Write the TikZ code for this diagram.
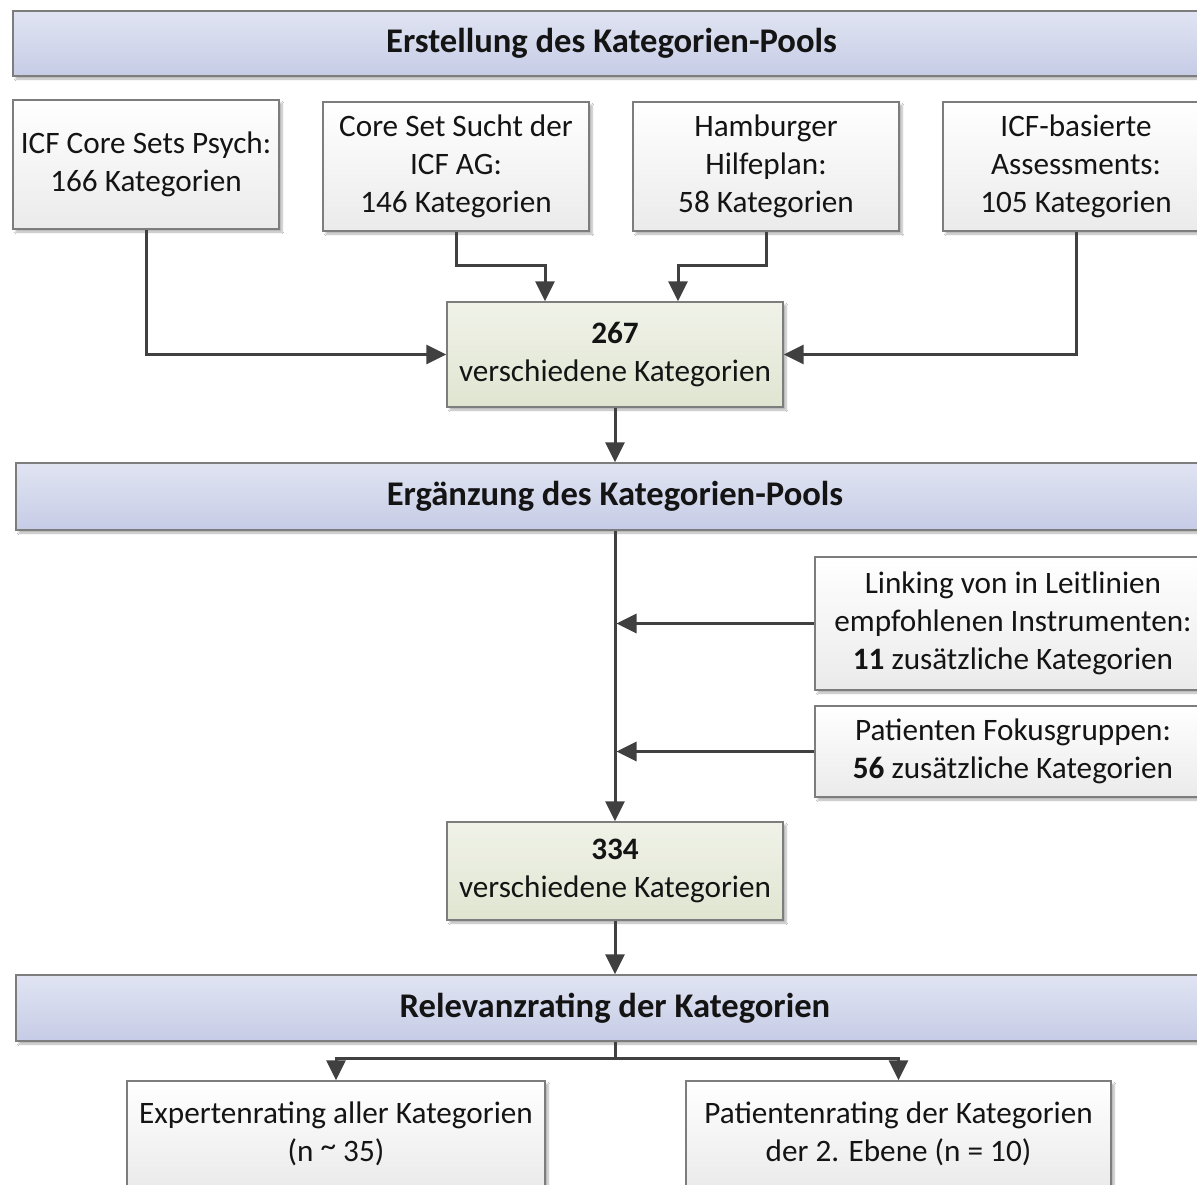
\documentclass[tikz,border=0pt]{standalone}
\usepackage{fontspec}
\setmainfont{Carlito}
\usetikzlibrary{arrows.meta,shadows.blur,calc}

\definecolor{hdtop}{RGB}{224,228,242}
\definecolor{hdbot}{RGB}{198,204,230}
\definecolor{grtop}{RGB}{240,242,232}
\definecolor{grbot}{RGB}{224,229,209}
\definecolor{boxline}{RGB}{125,125,125}
\definecolor{conncol}{RGB}{64,64,64}

\tikzset{
  base/.style={draw=boxline, line width=1.3pt, align=center, inner sep=0pt,
    text=black!92, font=\fontsize{31.2}{38}\selectfont,
    blur shadow={shadow xshift=3pt, shadow yshift=-3pt, shadow opacity=30, shadow blur steps=6}},
  header/.style={base, top color=hdtop, bottom color=hdbot,
    font=\fontsize{34.6}{40}\selectfont\bfseries},
  srcbox/.style={base, top color=white, bottom color=black!8},
  sumbox/.style={base, top color=grtop, bottom color=grbot},
  conn/.style={draw=conncol, line width=3pt},
  arr/.style={conn, -{Triangle[length=20pt,width=19pt]}},
}

\begin{document}
\begin{tikzpicture}[x=1pt,y=-1pt]
  \clip (0,0) rectangle (1197,1184);
  \fill[white] (0,0) rectangle (1197,1184);

  % section headers
  \node[header, minimum width=1197pt, minimum height=65pt] (h1) at (611.5,43.5) {Erstellung des Kategorien-Pools};
  \node[header, minimum width=1198pt, minimum height=67pt] (h2) at (615,496.5) {Ergänzung des Kategorien-Pools};
  \node[header, minimum width=1198pt, minimum height=66pt] (h3) at (615,1008) {Relevanzrating der Kategorien};

  % sources
  \node[srcbox, minimum width=266pt, minimum height=129pt] (b1) at (146,164.5) {ICF Core Sets Psych:\\166 Kategorien};
  \node[srcbox, minimum width=266pt, minimum height=129pt] (b2) at (456,166.5) {Core Set Sucht der\\ICF AG:\\146 Kategorien};
  \node[srcbox, minimum width=266pt, minimum height=129pt] (b3) at (766,166.5) {Hamburger\\Hilfeplan:\\58 Kategorien};
  \node[srcbox, minimum width=266pt, minimum height=129pt] (b4) at (1076,166.5) {ICF-basierte\\Assessments:\\105 Kategorien};

  % pooled categories
  \node[sumbox, minimum width=336pt, minimum height=105pt] (g1) at (615,354.5) {\textbf{267}\\verschiedene Kategorien};
  \node[sumbox, minimum width=336pt, minimum height=98pt] (g2) at (615,871) {\textbf{334}\\verschiedene Kategorien};

  % additions
  \node[srcbox, minimum width=396pt, minimum height=133pt] (s1) at (1013,623.5) {Linking von in Leitlinien\\empfohlenen Instrumenten:\\\textbf{11} zusätzliche Kategorien};
  \node[srcbox, minimum width=396pt, minimum height=91pt] (s2) at (1013,751.5) {Patienten Fokusgruppen:\\\textbf{56} zusätzliche Kategorien};

  % ratings
  \node[srcbox, minimum width=418pt, minimum height=106pt] (e1) at (336,1134) {Expertenrating aller Kategorien\\(n \raisebox{0.35ex}{\char`~}\ 35)};
  \node[srcbox, minimum width=425pt, minimum height=106pt] (e2) at (898.5,1134) {Patientenrating der Kategorien\\der 2. Ebene (n = 10)};

  % connectors into the first pool
  \draw[arr] (b1.south) |- (g1.west);
  \draw[arr] (b4.south) |- (g1.east);
  \draw[arr] (b2.south) -- ++(0,34) -| ($(g1.north)+(-70,0)$);
  \draw[arr] (b3.south) -- ++(0,34) -| ($(g1.north)+(63,0)$);
  \draw[arr] (g1.south) -- (h2.north);

  % supplementation
  \draw[arr] (h2.south) -- (g2.north);
  \coordinate (j1) at (h2.south |- s1.west);
  \coordinate (j2) at (h2.south |- s2.west);
  \draw[arr] (s1.west) -- ($(j1)+(1.5,0)$);
  \draw[arr] (s2.west) -- ($(j2)+(1.5,0)$);
  \draw[arr] (g2.south) -- (h3.north);

  % split to the ratings
  \coordinate (fork) at ($(h3.south)+(0,17)$);
  \draw[conn] (h3.south) -- (fork);
  \draw[arr] (fork) -| (e1.north);
  \draw[arr] (fork) -| (e2.north);
\end{tikzpicture}
\end{document}
